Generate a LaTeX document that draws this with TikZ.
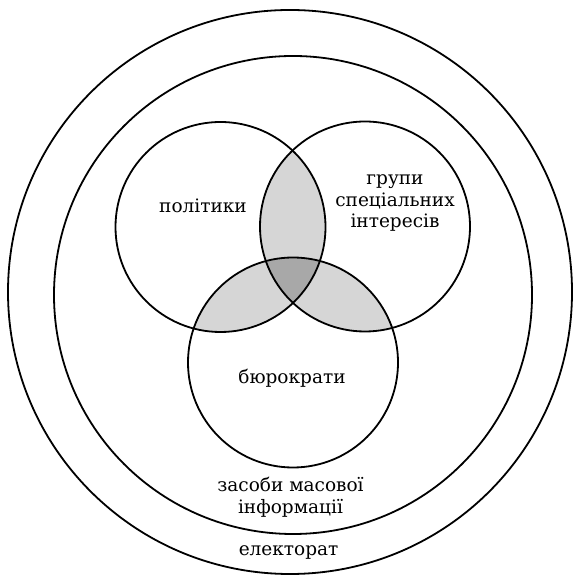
\documentclass[tikz,border=0pt]{standalone}
\usepackage{fontspec}
\setmainfont{DejaVu Serif}
\usetikzlibrary{positioning}

\tikzset{
    ring/.style={draw, circle, line width=1.8pt, inner sep=0pt},
    venn/.style={ring, minimum size=210pt},
    txt/.style={font=\fontsize{18.5}{21.5}\selectfont, align=center, inner sep=1pt},
    lens/.style={fill=black!16},
    core/.style={fill=black!34}
}

\begin{document}
\begin{tikzpicture}[x=1pt, y=1pt]
    \useasboundingbox (0,0) rectangle (573,577);
    % centres of the three groups
    \coordinate (cpol) at (220.5,350);
    \coordinate (cint) at (365,350.5);
    \coordinate (cbur) at (293,214.5);

    % shaded overlaps
    \begin{scope}
        \clip (cpol) circle[radius=105pt];
        \fill[lens] (cint) circle[radius=105pt];
        \fill[lens] (cbur) circle[radius=105pt];
    \end{scope}
    \begin{scope}
        \clip (cint) circle[radius=105pt];
        \fill[lens] (cbur) circle[radius=105pt];
    \end{scope}
    \begin{scope}
        \clip (cpol) circle[radius=105pt];
        \clip (cint) circle[radius=105pt];
        \fill[core] (cbur) circle[radius=105pt];
    \end{scope}

    % circles
    \node[ring, minimum size=564pt] (elect) at (290,285) {};
    \node[ring, minimum size=478pt] (media) at (293,282) {};
    \node[venn] (polit) at (cpol) {};
    \node[venn] (inter) at (cint) {};
    \node[venn] (burok) at (cbur) {};

    % labels
    \node[txt] (tpolit) at (203,371) {політики};
    \node[txt] (tinter) at (395,374) {групи\\спеціальних\\інтересів};
    \node[txt] (tburok) at (292,199) {бюрократи};
    \node[txt] (tmedia) at (290.5,80) {засоби масової\\інформації};
    \node[txt] (telect) at (288.6,25) {електорат};
\end{tikzpicture}
\end{document}
